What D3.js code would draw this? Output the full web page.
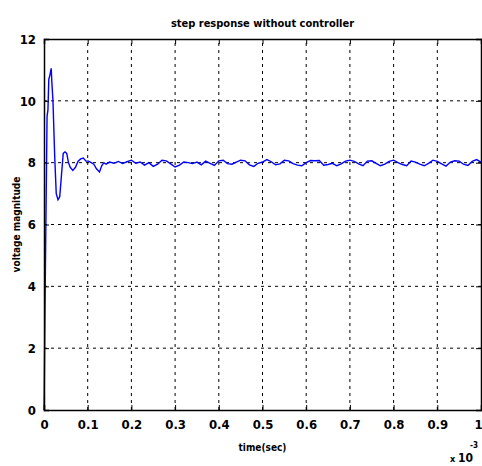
<!DOCTYPE html>
<html>
<head>
<meta charset="utf-8">
<script src="https://cdn.jsdelivr.net/npm/d3@7"></script>
<style>
  body { margin: 0; background: #fff; }
  svg { display: block; }
  text { font-family: "DejaVu Sans Condensed", "DejaVu Sans", sans-serif; font-weight: bold; fill: #000; }
</style>
</head>
<body>
<svg width="482" height="466"></svg>
<script>
const width = 482;
const height = 466;

// time axis in units of 1e-3 s
const xTicks = [0, 0.1, 0.2, 0.3, 0.4, 0.5, 0.6, 0.7, 0.8, 0.9, 1];
const xTickLabels = ["0", "0.1", "0.2", "0.3", "0.4", "0.5", "0.6", "0.7", "0.8", "0.9", "1"];
const yTicks = [0, 2, 4, 6, 8, 10, 12];

// transient part
const tStart = [0, 0.0005, 0.002, 0.004, 0.007, 0.009, 0.011, 0.013, 0.0165, 0.018,
  0.0205, 0.0245, 0.028, 0.032, 0.036, 0.04, 0.044, 0.048, 0.052, 0.056,
  0.06, 0.066, 0.072, 0.078, 0.084, 0.09, 0.096, 0.102, 0.108, 0.114,
  0.12, 0.127, 0.132, 0.137, 0.142];
const vStart = [0, 0.5, 2.9, 5.6, 9.5, 9.7, 10.7, 10.8, 11.05, 10.6,
  10.0, 8.2, 7.0, 6.8, 6.9, 7.6, 8.3, 8.35, 8.3, 8.0,
  7.85, 7.75, 7.85, 8.05, 8.12, 8.15, 8.05, 8.05, 8.0, 7.95,
  7.8, 7.7, 7.9, 8.0, 7.95];

// steady-state part, 0.15 .. 1.00 step 0.01
const tSteady = [0.15, 0.16, 0.17, 0.18, 0.19, 0.20, 0.21, 0.22, 0.23, 0.24,
  0.25, 0.26, 0.27, 0.28, 0.29, 0.30, 0.31, 0.32, 0.33, 0.34,
  0.35, 0.36, 0.37, 0.38, 0.39, 0.40, 0.41, 0.42, 0.43, 0.44,
  0.45, 0.46, 0.47, 0.48, 0.49, 0.50, 0.51, 0.52, 0.53, 0.54,
  0.55, 0.56, 0.57, 0.58, 0.59, 0.60, 0.61, 0.62, 0.63, 0.64,
  0.65, 0.66, 0.67, 0.68, 0.69, 0.70, 0.71, 0.72, 0.73, 0.74,
  0.75, 0.76, 0.77, 0.78, 0.79, 0.80, 0.81, 0.82, 0.83, 0.84,
  0.85, 0.86, 0.87, 0.88, 0.89, 0.90, 0.91, 0.92, 0.93, 0.94,
  0.95, 0.96, 0.97, 0.98, 0.99, 1.00];
const vSteady = [8.02, 7.98, 8.04, 7.97, 8.03, 8.08, 7.98, 8.02, 7.92, 8.00,
  7.88, 7.95, 8.08, 8.06, 7.96, 7.86, 7.92, 8.02, 8.00, 7.97,
  8.02, 7.93, 8.05, 7.98, 7.91, 8.06, 8.08, 7.97, 7.95, 8.02,
  8.08, 8.06, 7.93, 7.88, 7.98, 8.02, 8.10, 8.03, 7.93, 7.96,
  8.08, 8.06, 7.97, 7.92, 7.90, 8.00, 8.07, 8.06, 8.07, 7.92,
  7.94, 7.98, 7.90, 7.96, 8.05, 8.08, 8.04, 7.96, 7.90, 8.05,
  8.06, 7.98, 7.90, 7.95, 8.04, 8.08, 8.00, 7.94, 7.90, 8.05,
  8.02, 7.95, 7.90, 7.98, 8.08, 8.04, 7.96, 7.89, 8.02, 8.06,
  8.05, 7.95, 7.91, 8.04, 8.10, 8.02];

const times = tStart.concat(tSteady);
const values = vStart.concat(vSteady);
const points = times.map((t, i) => [t, values[i]]);

const margin = { top: 39, right: 1, bottom: 56, left: 44 };

const svg = d3.select("svg").attr("width", width).attr("height", height);

const x = d3.scaleLinear().domain([0, 1]).range([margin.left, width - margin.right]);
const y = d3.scaleLinear().domain([0, 12]).range([height - margin.bottom, margin.top]);

//grid
svg.append("g")
  .selectAll("line")
  .data(xTicks.slice(1, -1))
  .enter()
  .append("line")
  .attr("x1", (d) => x(d)).attr("x2", (d) => x(d))
  .attr("y1", y(0)).attr("y2", y(12))
  .attr("stroke", "#000").attr("stroke-width", 1)
  .attr("stroke-dasharray", "3,4");

svg.append("g")
  .selectAll("line")
  .data(yTicks.slice(1, -1))
  .enter()
  .append("line")
  .attr("x1", x(0)).attr("x2", x(1))
  .attr("y1", (d) => y(d)).attr("y2", (d) => y(d))
  .attr("stroke", "#000").attr("stroke-width", 1)
  .attr("stroke-dasharray", "3,4");

//response line
const line = d3.line().x((d) => x(d[0])).y((d) => y(d[1]));
svg.append("path")
  .datum(points)
  .attr("fill", "none")
  .attr("stroke", "#0000ff")
  .attr("stroke-width", 1.4)
  .attr("d", line);

//axes (inner ticks, box)
const xAxis = d3.axisBottom(x).tickValues(xTicks).tickSize(-5).tickPadding(10)
  .tickFormat((d, i) => xTickLabels[i]);
const gx = svg.append("g").attr("transform", `translate(0,${y(0)})`).call(xAxis);
gx.selectAll("text").attr("font-size", 13).attr("font-family", null)
  .attr("dx", (d) => (d === 1 ? -3 : 0));
gx.select(".domain").attr("stroke-width", 1.5);

const yAxis = d3.axisLeft(y).tickValues(yTicks).tickSize(-5).tickPadding(8);
const gy = svg.append("g").attr("transform", `translate(${x(0)},0)`).call(yAxis);
gy.selectAll("text").attr("font-size", 13).attr("font-family", null);
gy.select(".domain").attr("stroke-width", 1.5);

svg.append("g").attr("transform", `translate(0,${y(12)})`)
  .call(d3.axisTop(x).tickValues(xTicks).tickSize(-5).tickFormat(""))
  .select(".domain").attr("stroke-width", 1.5);

svg.append("g").attr("transform", `translate(${x(1)},0)`)
  .call(d3.axisRight(y).tickValues(yTicks).tickSize(-5).tickFormat(""))
  .select(".domain").attr("stroke-width", 1.5);

//titles
svg.append("text")
  .attr("x", (x(0) + x(1)) / 2).attr("y", 27)
  .attr("text-anchor", "middle").attr("font-size", 11)
  .text("step response without controller");

svg.append("text")
  .attr("x", (x(0) + x(1)) / 2).attr("y", 451)
  .attr("text-anchor", "middle").attr("font-size", 10)
  .text("time(sec)");

svg.append("text")
  .attr("transform", `translate(20,${(y(0) + y(12)) / 2}) rotate(-90)`)
  .attr("text-anchor", "middle").attr("font-size", 10)
  .text("voltage magnitude");

//exponent
const expo = svg.append("text").attr("x", 450).attr("y", 462).attr("font-size", 12);
expo.append("tspan").attr("font-size", 9).text("x ");
expo.append("tspan").text("10");
svg.append("text").attr("x", 470).attr("y", 448).attr("font-size", 8).text("-3");
</script>
</body>
</html>
